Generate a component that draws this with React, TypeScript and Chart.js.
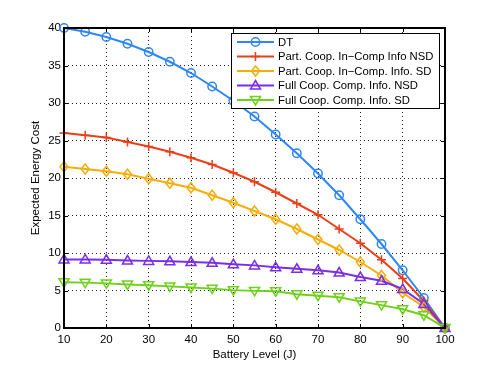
import React, { useEffect, useRef } from "react";
import { Chart, registerables } from "chart.js";

Chart.register(...registerables);

const batteryLevels = [10, 15, 20, 25, 30, 35, 40, 45, 50, 55, 60, 65, 70, 75, 80, 85, 90, 95, 100];
const dtCost = [40, 39.5, 38.8, 37.9, 36.8, 35.5, 34.0, 32.2, 30.3, 28.2, 25.8, 23.3, 20.6, 17.7, 14.5, 11.2, 7.7, 4.0, 0];
const partNsdCost = [26.0, 25.7, 25.4, 24.8, 24.2, 23.5, 22.7, 21.8, 20.7, 19.5, 18.1, 16.6, 15.1, 13.2, 11.3, 9.1, 6.6, 3.6, 0];
const partSdCost = [21.5, 21.2, 20.9, 20.5, 19.9, 19.3, 18.7, 17.7, 16.7, 15.6, 14.5, 13.2, 11.8, 10.4, 8.8, 7.0, 4.7, 2.8, 0];
const fullNsdCost = [9.15, 9.15, 9.1, 9.0, 8.95, 8.9, 8.8, 8.7, 8.5, 8.35, 8.1, 7.9, 7.7, 7.4, 6.8, 6.3, 5.2, 3.2, 0];
const fullSdCost = [6.1, 6.05, 5.95, 5.8, 5.7, 5.55, 5.4, 5.25, 5.05, 4.95, 4.9, 4.5, 4.3, 4.1, 3.55, 3.05, 2.5, 1.7, 0];

const seriesLabels = [
  "DT",
  "Part. Coop. In\u2212Comp Info NSD",
  "Part. Coop. In\u2212Comp. Info. SD",
  "Full Coop. Comp. Info. NSD",
  "Full Coop. Comp. Info. SD",
];
const seriesColors = ["#2f86f6", "#e8401a", "#f4ae0a", "#7a2ee6", "#6fd11c"];
const seriesMarkers = ["circle", "cross", "diamond", "triUp", "triDown"];
const seriesValues = [dtCost, partNsdCost, partSdCost, fullNsdCost, fullSdCost];

const xTicks = [10, 20, 30, 40, 50, 60, 70, 80, 90, 100];
const yTicks = [0, 5, 10, 15, 20, 25, 30, 35, 40];

const FONT = "'Liberation Sans', Arial, Helvetica, sans-serif";

function drawMarker(ctx: CanvasRenderingContext2D, kind: string, x: number, y: number, color: string) {
  ctx.save();
  ctx.strokeStyle = color;
  ctx.lineWidth = 1.5;
  ctx.beginPath();
  if (kind === "circle") {
    ctx.arc(x, y, 4.2, 0, Math.PI * 2);
  } else if (kind === "cross") {
    ctx.moveTo(x - 4.5, y);
    ctx.lineTo(x + 4.5, y);
    ctx.moveTo(x, y - 4.5);
    ctx.lineTo(x, y + 4.5);
  } else if (kind === "diamond") {
    ctx.moveTo(x, y - 5);
    ctx.lineTo(x + 4, y);
    ctx.lineTo(x, y + 5);
    ctx.lineTo(x - 4, y);
    ctx.closePath();
  } else if (kind === "triUp") {
    ctx.moveTo(x, y - 5);
    ctx.lineTo(x + 5, y + 3.5);
    ctx.lineTo(x - 5, y + 3.5);
    ctx.closePath();
  } else if (kind === "triDown") {
    ctx.moveTo(x, y + 5);
    ctx.lineTo(x + 5, y - 3.5);
    ctx.lineTo(x - 5, y - 3.5);
    ctx.closePath();
  }
  ctx.stroke();
  ctx.restore();
}

const markerPlugin = {
  id: "markersFrameLegend",
  afterDatasetsDraw(chart: any) {
    const ctx: CanvasRenderingContext2D = chart.ctx;
    const area = chart.chartArea;
    chart.data.datasets.forEach((ds: any, i: number) => {
      const meta = chart.getDatasetMeta(i);
      meta.data.forEach((pt: any) => {
        drawMarker(ctx, seriesMarkers[i], pt.x, pt.y, ds.borderColor);
      });
    });
    ctx.save();
    ctx.strokeStyle = "#000";
    ctx.lineWidth = 2;
    ctx.strokeRect(area.left, area.top, area.right - area.left, area.bottom - area.top);
    ctx.lineWidth = 1;
    const xs = chart.scales.x;
    const ys = chart.scales.y;
    const tl = 4;
    ctx.beginPath();
    xTicks.forEach((v) => {
      const px = Math.round(xs.getPixelForValue(v)) + 0.5;
      ctx.moveTo(px, area.bottom);
      ctx.lineTo(px, area.bottom - tl);
      ctx.moveTo(px, area.top);
      ctx.lineTo(px, area.top + tl);
    });
    yTicks.forEach((v) => {
      const py = Math.round(ys.getPixelForValue(v)) + 0.5;
      ctx.moveTo(area.left, py);
      ctx.lineTo(area.left + tl, py);
      ctx.moveTo(area.right, py);
      ctx.lineTo(area.right - tl, py);
    });
    ctx.stroke();
    const bx = 231, by = 33, bw = 208, bh = 75;
    ctx.fillStyle = "#fff";
    ctx.fillRect(bx, by, bw, bh);
    ctx.lineWidth = 1;
    ctx.strokeStyle = "#000";
    ctx.strokeRect(bx + 0.5, by + 0.5, bw, bh);
    ctx.font = "11.3px " + FONT;
    ctx.textBaseline = "middle";
    ctx.textAlign = "left";
    chart.data.datasets.forEach((ds: any, i: number) => {
      const ry = 42 + i * 14.5;
      ctx.strokeStyle = ds.borderColor;
      ctx.lineWidth = 2;
      ctx.beginPath();
      ctx.moveTo(237, ry);
      ctx.lineTo(274, ry);
      ctx.stroke();
      drawMarker(ctx, seriesMarkers[i], 255.5, ry, ds.borderColor);
      ctx.fillStyle = "#000";
      ctx.fillText(ds.label, 278, ry + 0.5);
    });
    ctx.restore();
  },
};

export default function App() {
  const canvasRef = useRef<HTMLCanvasElement | null>(null);

  useEffect(() => {
    if (!canvasRef.current) return;
    const chart = new Chart(canvasRef.current, {
      type: "line",
      data: {
        datasets: seriesValues.map((vals, i) => ({
          label: seriesLabels[i],
          data: batteryLevels.map((x, j) => ({ x, y: vals[j] })),
          borderColor: seriesColors[i],
          backgroundColor: seriesColors[i],
          borderWidth: 2,
          pointRadius: 0,
          fill: false,
          tension: 0,
          order: seriesValues.length - i,
        })),
      },
      options: {
        responsive: false,
        animation: false,
        events: [],
        layout: { padding: { left: 29, right: 46, top: 28, bottom: 0 } },
        plugins: {
          legend: { display: false },
          tooltip: { enabled: false },
        },
        scales: {
          x: {
            type: "linear",
            min: 10,
            max: 100,
            afterBuildTicks: (scale: any) => {
              scale.ticks = xTicks.map((v) => ({ value: v }));
            },
            afterFit: (scale: any) => {
              scale.height = 41;
            },
            grid: { color: "#222", lineWidth: 1, drawTicks: false },
            border: { display: false, dash: [1, 3] },
            ticks: {
              color: "#000",
              padding: 5,
              maxRotation: 0,
              font: { family: FONT, size: 11.5 },
            },
            title: {
              display: true,
              text: "Battery Level (J)",
              color: "#000",
              padding: { top: 0, bottom: 7 },
              font: { family: FONT, size: 11.5 },
            },
          },
          y: {
            type: "linear",
            min: 0,
            max: 40,
            afterBuildTicks: (scale: any) => {
              scale.ticks = yTicks.map((v) => ({ value: v }));
            },
            afterFit: (scale: any) => {
              scale.width = 35;
            },
            grid: { color: "#222", lineWidth: 1, drawTicks: false },
            border: { display: false, dash: [1, 3] },
            ticks: {
              color: "#000",
              padding: 3,
              font: { family: FONT, size: 11.5 },
            },
            title: {
              display: true,
              text: "Expected Energy Cost",
              color: "#000",
              padding: { top: 0, bottom: 0 },
              font: { family: FONT, size: 11.5 },
            },
          },
        },
      },
      plugins: [markerPlugin],
    } as any);
    return () => chart.destroy();
  }, []);

  return (
    <div style={{ position: "absolute", left: 0, top: 0, width: 491, height: 369, background: "#fff" }}>
      <canvas ref={canvasRef} width={491} height={369} style={{ width: 491, height: 369 }} />
    </div>
  );
}
